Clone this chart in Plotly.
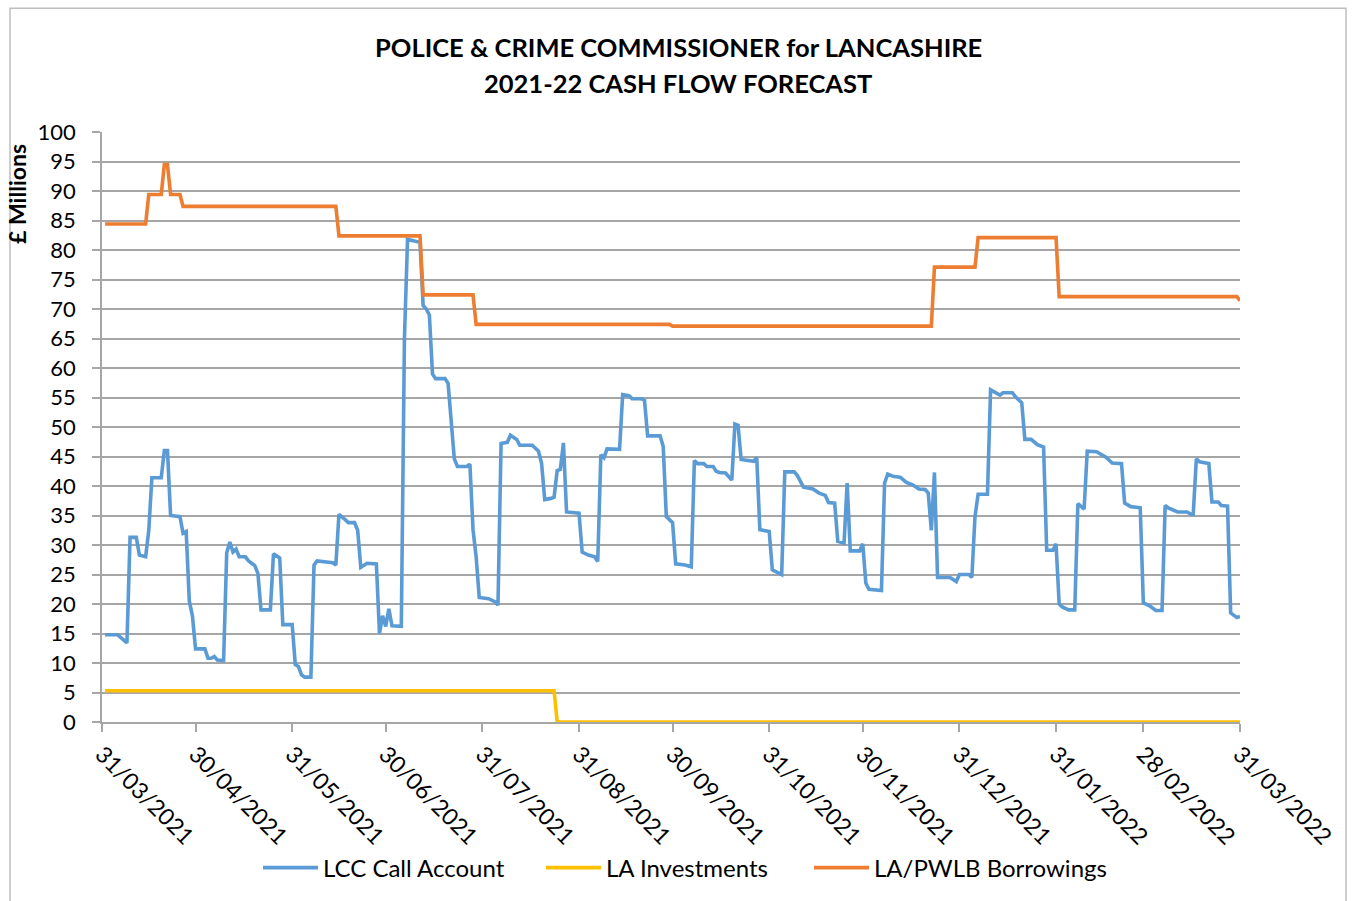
import plotly.graph_objects as go
import pandas as pd

START = "2021-03-31"

# LCC Call Account (day offset from 31/03/2021, £m)
lcc_days = [1, 5, 8, 9, 11, 12, 14, 15, 16, 19, 20, 21, 22, 25, 26, 27, 28, 29, 30, 33,
            34, 35, 36, 37, 39, 40, 41, 42, 43, 44, 46, 47, 49, 50, 51, 54, 55, 57, 58, 61,
            62, 63, 64, 65, 67, 68, 69, 74, 75, 76, 78, 79, 81, 82, 83, 85, 88, 89, 90, 91,
            92, 93, 96, 97, 98, 101, 102, 103, 104, 105, 106, 107, 110, 111, 112, 113, 114, 117, 118, 119,
            120, 121, 124, 126, 127, 128, 130, 131, 133, 134, 138, 140, 141, 142, 144, 145, 146, 147, 148, 149,
            153, 154, 156, 158, 159, 160, 161, 162, 166, 167, 169, 170, 173, 174, 175, 179, 180, 181, 183, 184,
            187, 189, 190, 191, 193, 194, 196, 197, 198, 200, 202, 203, 204, 205, 209, 210, 211, 214, 215, 217,
            218, 219, 222, 223, 225, 228, 230, 232, 233, 235, 236, 238, 239, 240, 243, 244, 245, 246, 250, 251,
            252, 254, 256, 258, 260, 262, 264, 265, 266, 267, 268, 272, 274, 275, 278, 279, 280, 281, 284, 285,
            287, 288, 289, 292, 293, 295, 296, 298, 300, 302, 303, 305, 306, 307, 308, 310, 312, 313, 315, 316,
            319, 322, 324, 327, 328, 330, 333, 334, 336, 338, 340, 341, 342, 345, 348, 349, 350, 351, 352, 355,
            356, 358, 359, 361, 362, 364, 365]
lcc_vals = [14.8, 14.8, 13.4, 31.3, 31.3, 28.3, 28.0, 32.5, 41.4, 41.4, 46.0, 46.0, 35.0, 34.8, 32.0, 32.3, 20.5, 18.0, 12.4, 12.4,
            10.8, 10.8, 11.1, 10.5, 10.4, 28.7, 30.5, 28.8, 29.3, 28.0, 28.0, 27.3, 26.5, 25.2, 19.0, 19.0, 28.5, 27.8, 16.5, 16.5,
            9.7, 9.4, 8.0, 7.6, 7.6, 26.6, 27.3, 27.0, 26.6, 35.2, 34.3, 33.8, 33.8, 32.5, 26.2, 26.9, 26.8, 15.0, 18.0, 16.2,
            19.2, 16.3, 16.2, 65.0, 81.8, 81.4, 81.3, 70.6, 70.0, 69.0, 59.0, 58.2, 58.2, 57.4, 51.2, 44.6, 43.3, 43.3, 43.7, 32.6,
            28.0, 21.1, 20.9, 20.4, 19.8, 47.2, 47.4, 48.6, 47.9, 46.9, 46.9, 45.9, 43.8, 37.7, 37.9, 38.1, 42.6, 42.8, 47.3, 35.6,
            35.4, 28.8, 28.3, 28.0, 27.2, 45.3, 44.8, 46.3, 46.2, 55.5, 55.3, 54.8, 54.8, 54.5, 48.5, 48.5, 46.7, 34.8, 33.8, 26.8,
            26.6, 26.3, 44.3, 43.8, 43.8, 43.3, 43.3, 42.5, 42.3, 42.2, 41.0, 50.5, 50.3, 44.5, 44.2, 44.8, 32.6, 32.3, 25.8, 25.2,
            25.0, 42.4, 42.4, 41.8, 39.8, 39.5, 38.8, 38.4, 37.2, 37.1, 30.6, 30.3, 40.5, 29.0, 29.0, 30.2, 23.5, 22.5, 22.3, 40.5,
            42.0, 41.6, 41.5, 40.6, 40.2, 39.5, 39.4, 38.8, 32.5, 42.3, 24.5, 24.5, 23.8, 25.0, 25.0, 24.5, 34.8, 38.6, 38.6, 56.3,
            55.8, 55.4, 55.8, 55.8, 55.1, 54.1, 47.9, 47.9, 47.0, 46.6, 29.1, 29.1, 30.2, 20.0, 19.5, 19.0, 19.0, 37.0, 36.1, 45.9,
            45.8, 44.9, 43.9, 43.8, 37.1, 36.5, 36.3, 20.2, 19.7, 18.9, 18.9, 36.7, 36.3, 35.6, 35.6, 35.3, 35.2, 44.6, 44.1, 43.8,
            37.3, 37.3, 36.7, 36.6, 18.5, 17.7, 17.9]

# LA Investments
inv_days = [1, 145, 146, 365]
inv_vals = [5.3, 5.3, 0.0, 0.0]

# LA/PWLB Borrowings
bor_days = [1, 14, 15, 19, 20, 21, 22, 25, 26, 75, 76, 102, 103, 119, 120, 182, 183, 266, 267, 280,
            281, 306, 307, 364, 365]
bor_vals = [84.4, 84.4, 89.4, 89.4, 94.5, 94.5, 89.4, 89.4, 87.4, 87.4, 82.4, 82.4, 72.4, 72.4, 67.4, 67.4, 67.1, 67.1, 77.1, 77.1,
            82.1, 82.1, 72.1, 72.1, 71.4]

tick_dates = ["2021-03-31", "2021-04-30", "2021-05-31", "2021-06-30", "2021-07-31", "2021-08-31",
              "2021-09-30", "2021-10-31", "2021-11-30", "2021-12-31", "2022-01-31", "2022-02-28", "2022-03-31"]
tick_text = [pd.Timestamp(d).strftime("%d/%m/%Y") for d in tick_dates]

series_names = ["LCC Call Account", "LA Investments", "LA/PWLB Borrowings"]
series_colors = ["#5B9BD5", "#FFC000", "#ED7D31"]
legend_ids = ["legend", "legend2", "legend3"]

base = pd.Timestamp(START)


def to_dates(days):
    return [(base + pd.Timedelta(days=d)).strftime("%Y-%m-%d") for d in days]


FONT = "Lato"

fig = go.Figure()
for name, color, days, vals, lg in zip(series_names, series_colors,
                                       [lcc_days, inv_days, bor_days],
                                       [lcc_vals, inv_vals, bor_vals], legend_ids):
    fig.add_trace(go.Scatter(x=to_dates(days), y=vals, mode="lines", name=name, legend=lg,
                             line=dict(color=color, width=3.6)))

W, H = 1352, 901
L, R, T, B = 102, 112, 132, 178
pw, ph = W - L - R, H - T - B


def px_x(x):
    return (x - L) / pw


def px_y(y):
    return (H - B - y) / ph


def legend_box(x_px):
    return dict(orientation="h", x=px_x(x_px), xanchor="left", y=px_y(868), yanchor="middle",
                font=dict(family=FONT, size=24, color="#000000"), itemwidth=55,
                bgcolor="rgba(0,0,0,0)")


fig.update_layout(
    width=W, height=H, autosize=False,
    margin=dict(l=L, r=R, t=T, b=B, pad=0),
    paper_bgcolor="white", plot_bgcolor="white",
    font=dict(family=FONT, size=22, color="#000000"),
    showlegend=True,
    legend=legend_box(258),
    legend2=legend_box(541),
    legend3=legend_box(809),
    xaxis=dict(type="date", range=[START, "2022-03-31"], tickmode="array",
               tickvals=tick_dates, ticktext=tick_text, tickangle=45,
               showgrid=False, showline=True, linecolor="#A6A6A6", linewidth=1.5,
               ticks="outside", ticklen=8, tickcolor="#A6A6A6", tickwidth=1.5,
               tickfont=dict(family=FONT, size=23, color="#000000"), zeroline=False),
    yaxis=dict(range=[0, 100], tickmode="linear", tick0=0, dtick=5,
               showgrid=True, gridcolor="#A6A6A6", gridwidth=1.5,
               showline=True, linecolor="#A6A6A6", linewidth=1.5,
               ticks="outside", ticklen=8, tickcolor="#A6A6A6", tickwidth=1.5,
               ticklabelstandoff=12,
               tickfont=dict(family=FONT, size=22, color="#000000"), zeroline=False),
    shapes=[dict(type="rect", xref="paper", yref="paper",
                 x0=px_x(10), x1=px_x(1346), y0=px_y(910), y1=px_y(8),
                 line=dict(color="#BFBFBF", width=1.5), fillcolor="rgba(0,0,0,0)", layer="below")],
    annotations=[
        dict(text="<b>POLICE & CRIME COMMISSIONER for LANCASHIRE</b>", xref="paper", yref="paper",
             x=px_x(678), y=px_y(47), xanchor="center", yanchor="middle", showarrow=False,
             font=dict(family=FONT, size=25.5, color="#000000")),
        dict(text="<b>2021-22 CASH FLOW FORECAST</b>", xref="paper", yref="paper",
             x=px_x(678), y=px_y(83), xanchor="center", yanchor="middle", showarrow=False,
             font=dict(family=FONT, size=25.5, color="#000000")),
        dict(text="<b>£ Millions</b>", xref="paper", yref="paper", textangle=-90,
             x=px_x(17), y=px_y(194), xanchor="center", yanchor="middle", showarrow=False,
             font=dict(family=FONT, size=23, color="#000000")),
    ],
)

fig.write_html("out.html")
